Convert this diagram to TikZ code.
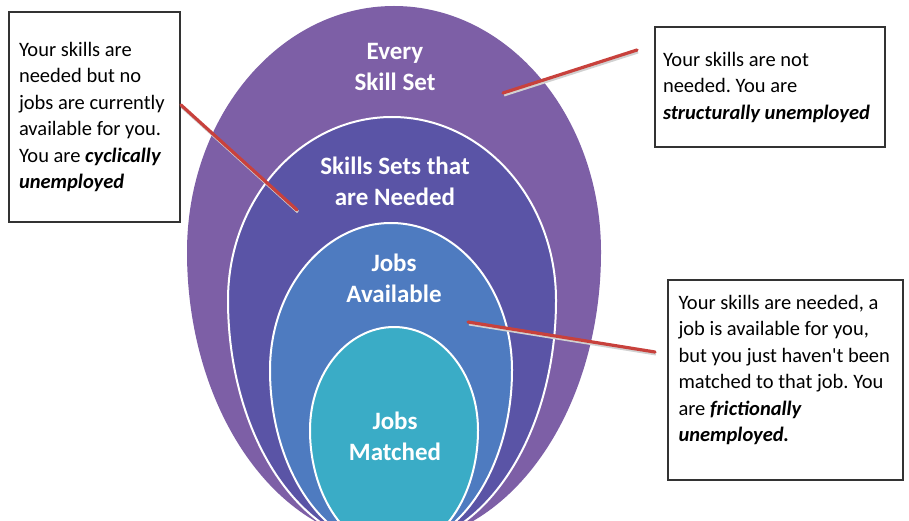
\documentclass[tikz,border=0pt]{standalone}
\usepackage{fontspec}
\setmainfont{Carlito}
\usetikzlibrary{calc}
\definecolor{outerc}{HTML}{7D5FA6}
\definecolor{needc}{HTML}{5A54A6}
\definecolor{availc}{HTML}{4E7BC0}
\definecolor{matchc}{HTML}{3AACC6}
\definecolor{redc}{HTML}{C8413C}
\definecolor{boxc}{HTML}{333333}
\tikzset{
  ringlabel/.style={text=white, font=\fontsize{25}{31}\selectfont\bfseries, align=center},
  infobox/.style={draw=boxc, line width=1.8, fill=white, inner ysep=0,
    font=\fontsize{20.5}{26.5}\selectfont\frenchspacing},
  callout/.style={draw=redc, line width=3.2, line cap=round,
    preaction={draw=black!18, line width=3, transform canvas={shift={(1,-2)}}}},
  ringedge/.style={draw=white, line width=2}
}
\newcommand{\eggpath}[5]{% cx, cy, rx, rtop, rbot
  (#1-#3,#2) arc[start angle=180, end angle=0, x radius=#3, y radius=#4]
  arc[start angle=0, end angle=-180, x radius=#3, y radius=#5] -- cycle}
\newcommand{\boxtext}[3]{\parbox[c][#1][c]{#2}{\raggedright #3}}
\begin{document}
\begin{tikzpicture}[x=1pt, y=1pt]
\useasboundingbox (0,0) rectangle (909,520);
\fill[white] (0,0) rectangle (909,520);
\begin{scope}
  \clip (0,0) rectangle (909,520);
  \fill[outerc] \eggpath{394}{268}{207}{246}{291};
  \fill[needc, ringedge] \eggpath{392}{220}{164}{183}{247};
  \fill[availc, ringedge] \eggpath{391}{150}{121}{147}{179};
  \fill[matchc, ringedge] \eggpath{394}{90}{84}{103}{121};
\end{scope}

\node[ringlabel] (every) at (395,453) {Every\\Skill Set};
\node[ringlabel] (needed) at (395,339) {Skills Sets that\\are Needed};
\node[ringlabel] (avail) at (394,242) {Jobs\\Available};
\node[ringlabel] (matched) at (395,84) {Jobs\\Matched};

\node[infobox, inner xsep=10] (cyc) at (94.5,403)
  {\boxtext{210pt}{151pt}{Your skills are\\needed but no\\jobs are currently\\available for you.\\You are \textbf{\textit{cyclically}}\\\textbf{\textit{unemployed}}}};
\node[infobox, inner xsep=8] (struct) at (770,433)
  {\boxtext{120pt}{214pt}{Your skills are not\\needed. You are\\\textbf{\textit{structurally unemployed}}}};
\node[infobox, inner xsep=10.5, inner ysep=15] (fric) at (785.5,140)
  {\parbox[c][170pt][t]{214pt}{\raggedright Your skills are needed, a\\job is available for you,\\but you just haven\textquotesingle t been\\matched to that job. You\\are \textbf{\textit{frictionally}}\\\textbf{\textit{unemployed.}}}};

\coordinate (cycend) at (297,310);
\coordinate (structstart) at (637,470);
\coordinate (structend) at (503,427);
\coordinate (fricstart) at (655,168);
\coordinate (fricend) at (468,198);

\draw[callout] ($(cyc.north east)!0.443!(cyc.south east)$) -- (cycend);
\draw[callout] (structstart) -- (structend);
\draw[callout] (fricstart) -- (fricend);
\end{tikzpicture}
\end{document}
